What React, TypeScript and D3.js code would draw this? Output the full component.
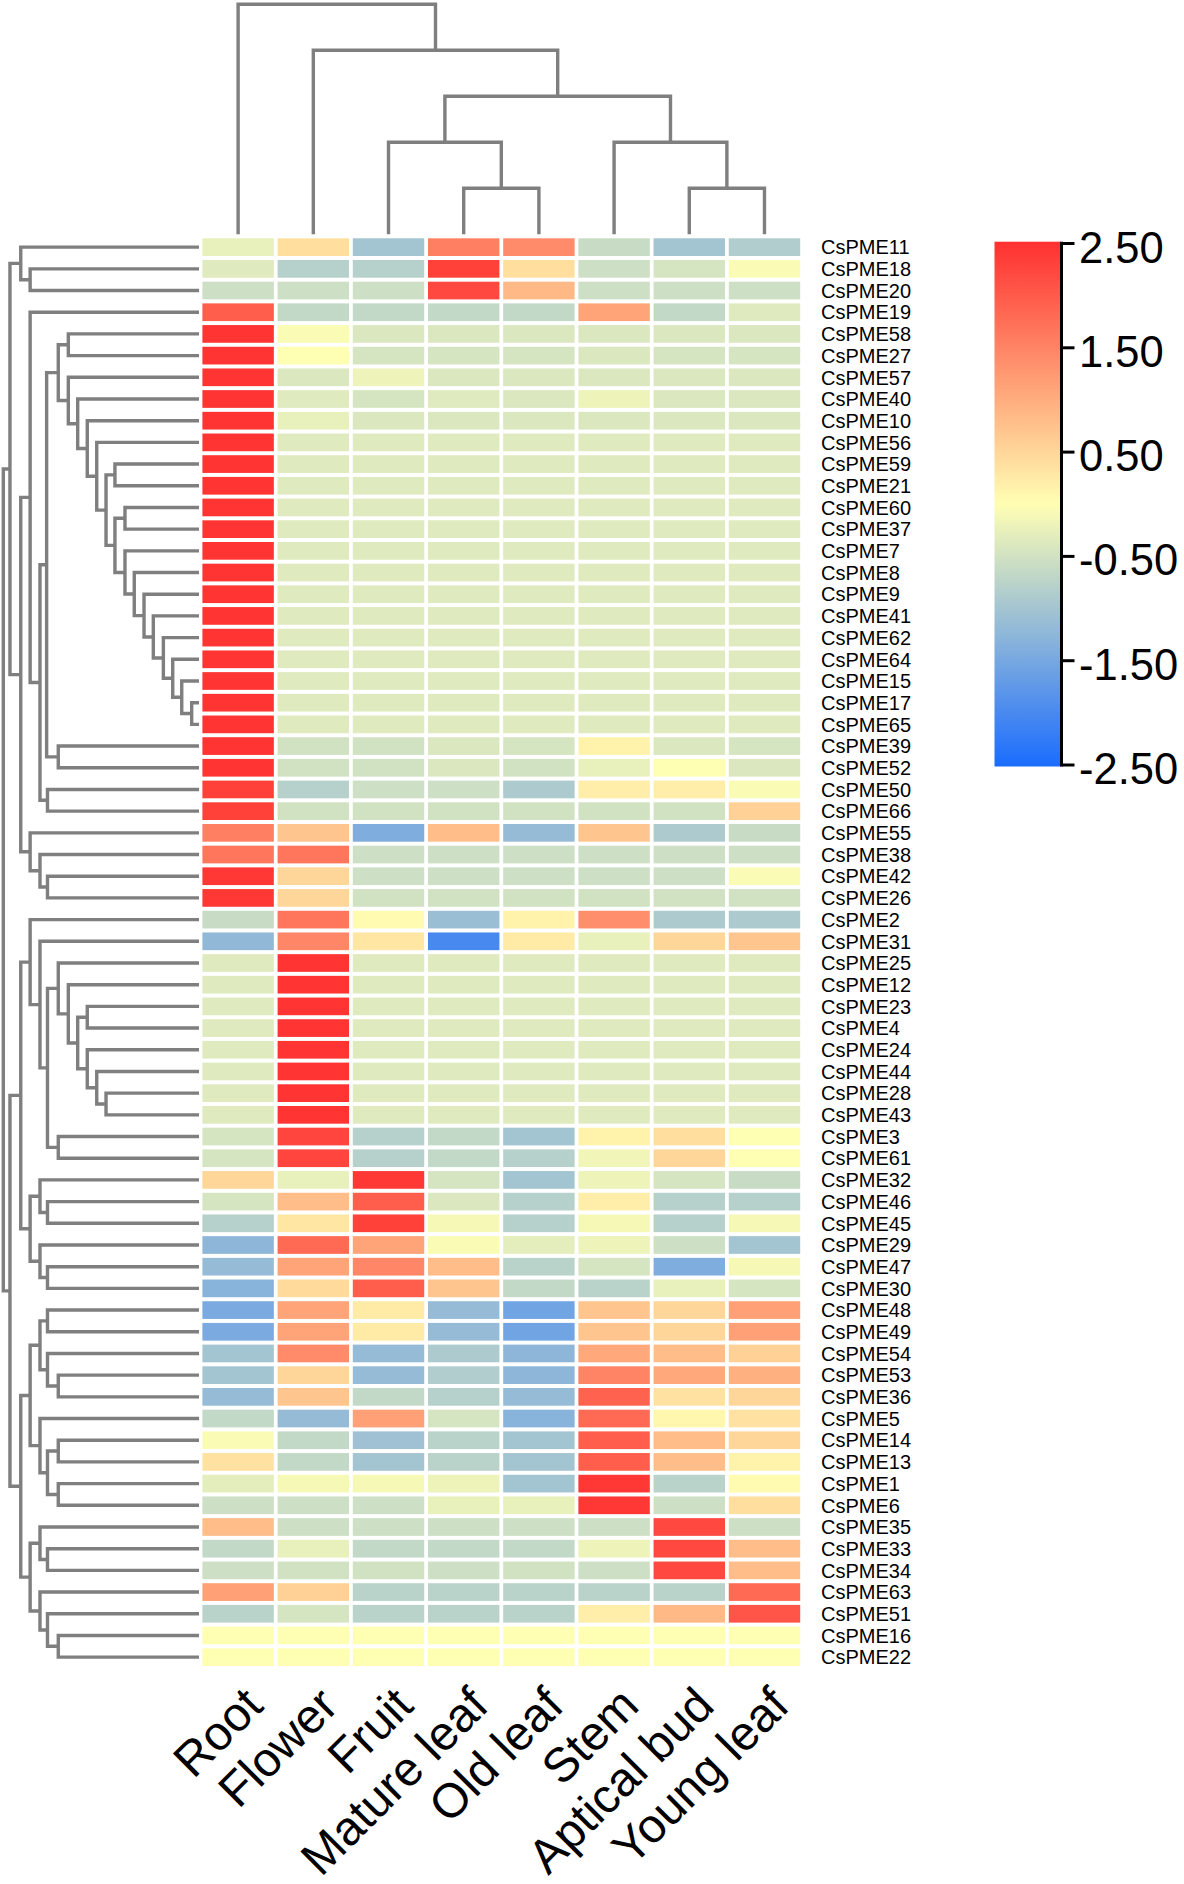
import React from "react";
import * as d3 from "d3";

// ---------- data ----------
const tissues = ["Root", "Flower", "Fruit", "Mature leaf", "Old leaf", "Stem", "Aptical bud", "Young leaf"];

const genes = [
  "CsPME11", "CsPME18", "CsPME20", "CsPME19", "CsPME58", "CsPME27", "CsPME57", "CsPME40", "CsPME10", "CsPME56",
  "CsPME59", "CsPME21", "CsPME60", "CsPME37", "CsPME7", "CsPME8", "CsPME9", "CsPME41", "CsPME62", "CsPME64",
  "CsPME15", "CsPME17", "CsPME65", "CsPME39", "CsPME52", "CsPME50", "CsPME66", "CsPME55", "CsPME38", "CsPME42",
  "CsPME26", "CsPME2", "CsPME31", "CsPME25", "CsPME12", "CsPME23", "CsPME4", "CsPME24", "CsPME44", "CsPME28",
  "CsPME43", "CsPME3", "CsPME61", "CsPME32", "CsPME46", "CsPME45", "CsPME29", "CsPME47", "CsPME30", "CsPME48",
  "CsPME49", "CsPME54", "CsPME53", "CsPME36", "CsPME5", "CsPME14", "CsPME13", "CsPME1", "CsPME6", "CsPME35",
  "CsPME33", "CsPME34", "CsPME63", "CsPME51", "CsPME16", "CsPME22",
];

const rootVals = [
  -0.25, -0.35, -0.55, 1.95, 2.45, 2.45, 2.45, 2.45, 2.45, 2.45,
  2.45, 2.45, 2.45, 2.45, 2.45, 2.45, 2.45, 2.45, 2.45, 2.45,
  2.45, 2.45, 2.45, 2.45, 2.45, 2.3, 2.3, 1.55, 1.65, 2.4,
  2.4, -0.6, -1.2, -0.35, -0.35, -0.35, -0.35, -0.35, -0.35, -0.35,
  -0.35, -0.45, -0.45, 0.5, -0.45, -0.8, -1.25, -1.15, -1.3, -1.45,
  -1.45, -1.0, -1.0, -1.15, -0.65, -0.05, 0.35, -0.3, -0.55, 0.8,
  -0.65, -0.55, 1.15, -0.75, 0, 0,
];
const flowerVals = [
  0.4, -0.8, -0.55, -0.65, -0.05, 0.0, -0.4, -0.35, -0.25, -0.35,
  -0.35, -0.35, -0.35, -0.35, -0.35, -0.35, -0.35, -0.35, -0.35, -0.35,
  -0.35, -0.35, -0.35, -0.5, -0.5, -0.8, -0.5, 0.7, 1.65, 0.5,
  0.5, 1.65, 1.45, 2.45, 2.45, 2.45, 2.45, 2.45, 2.45, 2.45,
  2.45, 2.25, 2.25, -0.25, 0.8, 0.3, 1.8, 1.1, 0.45, 1.1,
  1.1, 1.4, 0.5, 0.7, -1.15, -0.65, -0.65, -0.1, -0.55, -0.55,
  -0.25, -0.5, 0.55, -0.45, 0, 0,
];
const fruitVals = [
  -1.0, -0.8, -0.55, -0.65, -0.4, -0.45, -0.2, -0.45, -0.4, -0.35,
  -0.35, -0.35, -0.35, -0.35, -0.35, -0.35, -0.35, -0.35, -0.35, -0.35,
  -0.35, -0.35, -0.35, -0.5, -0.5, -0.55, -0.5, -1.4, -0.55, -0.55,
  -0.5, 0.05, 0.3, -0.35, -0.35, -0.35, -0.35, -0.35, -0.35, -0.35,
  -0.35, -0.8, -0.8, 2.4, 1.95, 2.3, 1.1, 1.45, 1.95, 0.25,
  0.25, -1.15, -1.15, -0.65, 1.15, -1.05, -1.0, -0.1, -0.55, -0.55,
  -0.65, -0.5, -0.75, -0.75, 0, 0,
];
const matureLeafVals = [
  1.55, 2.3, 2.2, -0.65, -0.4, -0.45, -0.4, -0.35, -0.4, -0.35,
  -0.35, -0.35, -0.35, -0.35, -0.35, -0.35, -0.35, -0.35, -0.35, -0.35,
  -0.35, -0.35, -0.35, -0.4, -0.4, -0.55, -0.5, 0.8, -0.55, -0.55,
  -0.5, -1.1, -2.0, -0.35, -0.35, -0.35, -0.35, -0.35, -0.35, -0.35,
  -0.35, -0.65, -0.65, -0.45, -0.4, -0.1, -0.05, 0.8, 0.7, -1.15,
  -1.15, -0.9, -0.85, -0.8, -0.45, -0.75, -0.75, -0.2, -0.25, -0.55,
  -0.65, -0.55, -0.75, -0.75, 0, 0,
];
const oldLeafVals = [
  1.4, 0.4, 0.85, -0.65, -0.4, -0.45, -0.4, -0.4, -0.4, -0.35,
  -0.35, -0.35, -0.35, -0.35, -0.35, -0.35, -0.35, -0.35, -0.35, -0.35,
  -0.35, -0.35, -0.35, -0.45, -0.5, -0.9, -0.5, -1.15, -0.55, -0.55,
  -0.5, 0.15, 0.25, -0.35, -0.35, -0.35, -0.35, -0.35, -0.35, -0.35,
  -0.35, -1.0, -0.8, -1.0, -0.8, -0.8, -0.3, -0.75, -0.65, -1.55,
  -1.55, -1.25, -1.25, -1.15, -1.3, -1.0, -1.0, -1.0, -0.25, -0.55,
  -0.65, -0.5, -0.75, -0.75, 0, 0,
];
const stemVals = [
  -0.6, -0.55, -0.55, 1.1, -0.4, -0.4, -0.4, -0.2, -0.4, -0.35,
  -0.35, -0.35, -0.35, -0.35, -0.35, -0.35, -0.35, -0.35, -0.35, -0.35,
  -0.35, -0.35, -0.35, 0.15, -0.25, 0.2, -0.5, 0.7, -0.55, -0.55,
  -0.5, 1.35, -0.25, -0.35, -0.35, -0.35, -0.35, -0.35, -0.35, -0.35,
  -0.35, 0.15, -0.15, -0.2, 0.2, -0.1, -0.2, -0.45, -0.75, 0.7,
  0.7, 1.05, 1.5, 1.9, 1.8, 1.95, 1.95, 2.4, 2.4, -0.55,
  -0.2, -0.55, -0.75, 0.2, 0, 0,
];
const apticalBudVals = [
  -1.0, -0.45, -0.55, -0.65, -0.4, -0.45, -0.4, -0.4, -0.4, -0.35,
  -0.35, -0.35, -0.35, -0.35, -0.35, -0.35, -0.35, -0.35, -0.35, -0.35,
  -0.35, -0.35, -0.35, -0.4, 0.0, 0.2, -0.5, -0.9, -0.55, -0.55,
  -0.5, -0.9, 0.5, -0.35, -0.35, -0.35, -0.35, -0.35, -0.35, -0.35,
  -0.35, 0.4, 0.5, -0.45, -0.8, -0.8, -0.55, -1.4, -0.25, 0.5,
  0.5, 0.8, 1.05, 0.35, 0.1, 0.8, 0.8, -0.75, -0.55, 2.2,
  2.2, 2.2, -0.75, 0.85, 0, 0,
];
const youngLeafVals = [
  -0.85, -0.05, -0.55, -0.35, -0.4, -0.45, -0.4, -0.4, -0.4, -0.35,
  -0.35, -0.35, -0.35, -0.35, -0.35, -0.35, -0.35, -0.35, -0.35, -0.35,
  -0.35, -0.35, -0.35, -0.45, -0.4, -0.05, 0.55, -0.6, -0.55, -0.05,
  -0.5, -0.9, 0.7, -0.35, -0.35, -0.35, -0.35, -0.35, -0.35, -0.35,
  -0.35, 0.0, 0.0, -0.6, -0.8, -0.1, -1.0, -0.1, -0.45, 1.15,
  1.15, 0.55, 0.95, 0.5, 0.35, 0.5, 0.15, 0.05, 0.4, -0.55,
  0.8, 0.8, 1.8, 2.05, 0, 0,
];

const seriesByTissue = [rootVals, flowerVals, fruitVals, matureLeafVals, oldLeafVals, stemVals, apticalBudVals, youngLeafVals];

const legendTicks = [2.5, 1.5, 0.5, -0.5, -1.5, -2.5];

// ---------- dendrograms (merge heights) ----------
type Tree = string | { h: number; c: [Tree, Tree] };
const n = (h: number, a: Tree, b: Tree): Tree => ({ h, c: [a, b] });

const rootChain = n(7.89, "CsPME7", n(6.9, "CsPME8", n(5.86, "CsPME9", n(4.87, "CsPME41",
  n(3.8, "CsPME62", n(2.8, "CsPME64", n(1.84, "CsPME15", n(0.78, "CsPME17", "CsPME65"))))))));
const rootCluster = n(15.0, n(13.93, "CsPME58", "CsPME27"),
  n(13.93, "CsPME57", n(12.93, "CsPME40", n(11.91, "CsPME10", n(10.9, "CsPME56",
    n(9.91, n(8.96, "CsPME59", "CsPME21"), n(8.96, n(7.89, "CsPME60", "CsPME37"), rootChain)))))));
const clusterC = n(20.15,
  n(19.0, "CsPME11", n(18.0, "CsPME18", "CsPME20")),
  n(19.0,
    n(18.0, "CsPME19", n(16.95, n(16.24, rootCluster, n(15.0, "CsPME39", "CsPME52")), n(16.15, "CsPME50", "CsPME66"))),
    n(18.0, "CsPME55", n(16.95, "CsPME38", n(16.15, "CsPME42", "CsPME26")))));
const flowerCluster = n(18.0, "CsPME2", n(16.95, "CsPME31", n(16.15,
  n(15.0, "CsPME25", n(13.93, "CsPME12", n(12.93, n(11.91, "CsPME23", "CsPME4"),
    n(11.91, "CsPME24", n(10.9, "CsPME44", n(9.91, "CsPME28", "CsPME43")))))),
  n(15.0, "CsPME3", "CsPME61"))));
const fruitCluster = n(18.0,
  n(16.95, "CsPME32", n(16.15, "CsPME46", "CsPME45")),
  n(16.95, "CsPME29", n(16.15, "CsPME47", "CsPME30")));
const stemBudCluster = n(19.0,
  n(18.0,
    n(16.95, n(16.15, "CsPME48", "CsPME49"), n(16.15, "CsPME54", n(15.0, "CsPME53", "CsPME36"))),
    n(16.95, "CsPME5", n(16.15, n(15.0, "CsPME14", "CsPME13"), n(15.0, "CsPME1", "CsPME6")))),
  n(18.0,
    n(16.95, "CsPME35", n(16.15, "CsPME33", "CsPME34")),
    n(16.95, "CsPME63", n(16.15, "CsPME51", n(15.0, "CsPME16", "CsPME22")))));
const rowTree = n(20.86, clusterC, n(20.15, n(19.0, flowerCluster, fruitCluster), stemBudCluster));

const colTree = n(5, "Root", n(4, "Flower", n(3,
  n(2, "Fruit", n(1, "Mature leaf", "Old leaf")),
  n(2, "Stem", n(1, "Aptical bud", "Young leaf")))));

// ---------- component ----------
export default function App() {
  const W = 1184, H = 1884;
  const font = "'Liberation Sans', Arial, Helvetica, sans-serif";

  const x = d3.scaleBand<string>().domain(tissues).range([202.4, 800.2]).paddingInner(0.05);
  const y = d3.scaleBand<string>().domain(genes).range([238.3, 1666]).paddingInner(0.184);
  const color = d3.scaleLinear<string>().domain([-2.5, 0, 2.5]).range(["#1a6cff", "#ffffb3", "#ff3030"]);
  const hLeft = d3.scaleLinear().domain([0, 20.86]).range([199, 3.3]);
  const hTop = d3.scaleLinear().domain([0, 5]).range([234.3, 4.3]);
  const legY = d3.scaleLinear().domain([2.5, -2.5]).range([243.5, 765]);

  const cx = (t: string) => (x(t) as number) + x.bandwidth() / 2;
  const cy = (g: string) => (y(g) as number) + y.bandwidth() / 2;

  const leftPaths: string[] = [];
  const placeLeft = (t: Tree): { x: number; y: number } => {
    if (typeof t === "string") return { x: 199, y: cy(t) };
    const a = placeLeft(t.c[0]);
    const b = placeLeft(t.c[1]);
    const nx = hLeft(t.h);
    leftPaths.push(`M${a.x},${a.y}H${nx}V${b.y}H${b.x}`);
    return { x: nx, y: (a.y + b.y) / 2 };
  };
  placeLeft(rowTree);

  const topPaths: string[] = [];
  const placeTop = (t: Tree): { x: number; y: number } => {
    if (typeof t === "string") return { x: cx(t), y: hTop(0) };
    const a = placeTop(t.c[0]);
    const b = placeTop(t.c[1]);
    const ny = hTop(t.h);
    topPaths.push(`M${a.x},${a.y}V${ny}H${b.x}V${b.y}`);
    return { x: (a.x + b.x) / 2, y: ny };
  };
  placeTop(colTree);

  const gradStops = d3.range(0, 21).map((i) => {
    const v = 2.5 - (i * 5) / 20;
    return { off: `${(i / 20) * 100}%`, c: color(v) };
  });

  const legTop = 241.7, legBot = 766.5, barX = 994.5, barW = 66.5, axisX = 1061.5;

  return (
    <div style={{ position: "absolute", left: 0, top: 0 }}>
      <svg width={W} height={H} viewBox={`0 0 ${W} ${H}`} style={{ display: "block", background: "#fff" }} fontFamily={font}>
        <defs>
          <linearGradient id="leg" x1="0" y1="0" x2="0" y2="1">
            {gradStops.map((s, i) => (
              <stop key={i} offset={s.off} stopColor={s.c} />
            ))}
          </linearGradient>
        </defs>

        <g>
          {genes.map((g, gi) =>
            tissues.map((t, ti) => (
              <rect
                key={g + t}
                x={x(t)}
                y={y(g)}
                width={x.bandwidth()}
                height={y.bandwidth()}
                fill={color(seriesByTissue[ti][gi])}
              />
            ))
          )}
        </g>

        <g fill="none" stroke="#7f7f7f" strokeWidth={3.4} strokeLinejoin="miter">
          {leftPaths.map((d, i) => <path key={"l" + i} d={d} />)}
          {topPaths.map((d, i) => <path key={"t" + i} d={d} />)}
        </g>

        <g fontSize={20} fill="#000">
          {genes.map((g) => (
            <text key={g} x={821} y={cy(g) + 7.2}>{g}</text>
          ))}
        </g>

        <g fontSize={48} fill="#000">
          {tissues.map((t) => (
            <text key={t} textAnchor="end" transform={`translate(${cx(t) + 27},1708) rotate(-45)`}>{t}</text>
          ))}
        </g>

        <rect x={barX} y={legTop} width={barW} height={legBot - legTop} fill="url(#leg)" />
        <g stroke="#000" strokeWidth={3}>
          <line x1={axisX} x2={axisX} y1={legTop} y2={legBot} />
          {legendTicks.map((v) => (
            <line key={v} x1={axisX} x2={axisX + 13} y1={legY(v)} y2={legY(v)} />
          ))}
        </g>
        <g fontSize={43.5} fill="#000">
          {legendTicks.map((v) => (
            <text key={v} x={1079} y={legY(v) + 19}>{v.toFixed(2)}</text>
          ))}
        </g>
      </svg>
    </div>
  );
}
